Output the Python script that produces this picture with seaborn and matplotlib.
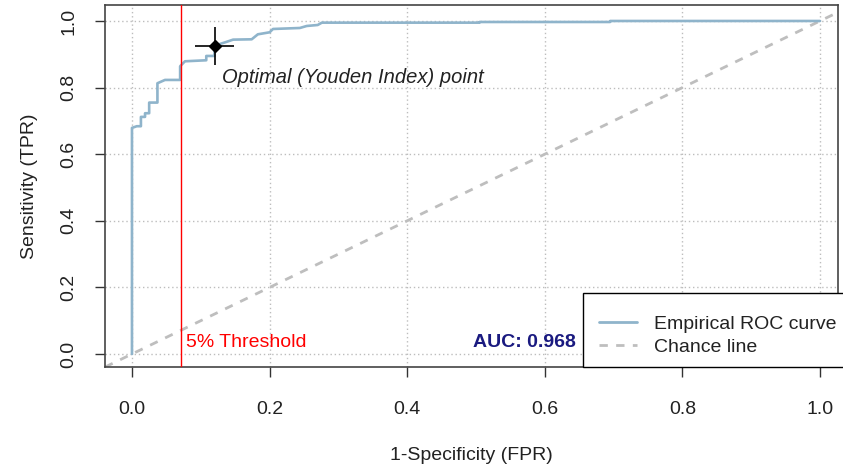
import matplotlib
matplotlib.use("Agg")
import matplotlib.pyplot as plt
import seaborn as sns
import pandas as pd
from matplotlib.lines import Line2D
from matplotlib.patches import Rectangle

# ---- data ----
fpr = [0.0, 0.0, 0.007, 0.013, 0.013, 0.019, 0.019, 0.025, 0.025, 0.037,
       0.037, 0.048, 0.070, 0.070, 0.077, 0.108, 0.108, 0.120, 0.120, 0.128,
       0.137, 0.147, 0.174, 0.183, 0.200, 0.205, 0.244, 0.254, 0.270, 0.276,
       0.505, 0.505, 0.695, 0.695, 1.0]
tpr = [0.0, 0.679, 0.684, 0.684, 0.712, 0.712, 0.723, 0.723, 0.755, 0.755,
       0.813, 0.823, 0.823, 0.864, 0.879, 0.882, 0.895, 0.895, 0.925, 0.931,
       0.937, 0.944, 0.945, 0.960, 0.966, 0.976, 0.979, 0.985, 0.988, 0.995,
       0.995, 0.997, 0.997, 1.0, 1.0]
optimal_fpr = [0.120]
optimal_tpr = [0.925]
optimal_fpr_err = [0.029]
optimal_tpr_err = [0.058]
threshold_fpr = 0.0715
auc_value = 0.968
ticks = [0.0, 0.2, 0.4, 0.6, 0.8, 1.0]
tick_labels = ["0.0", "0.2", "0.4", "0.6", "0.8", "1.0"]
legend_labels = ["Empirical ROC curve", "Chance line"]

roc = pd.DataFrame({"fpr": fpr, "tpr": tpr})

sns.set_style("ticks")
plt.rcParams["font.family"] = ["Liberation Sans", "DejaVu Sans"]

W, H = 843, 469
fig = plt.figure(figsize=(W / 100, H / 100), dpi=100)
L, R, T, B = 105, 838, 5, 367
ax = fig.add_axes([L / W, (H - B) / H, (R - L) / W, (B - T) / H])

FS = 14
curve_col = "#8FB4CB"

ax.set_xlim(-0.0392, 1.0262)
ax.set_ylim(-0.039, 1.048)

# grid
for t in ticks:
    ax.axvline(t, color="#BDBDBD", lw=1.0, ls=(0, (1, 2)), zorder=1)
    ax.axhline(t, color="#BDBDBD", lw=1.0, ls=(0, (1, 2)), zorder=1)

# chance line
ax.axline((0, 0), (1, 1), color="#BEBEBE", lw=2.0, ls=(0, (3, 3)), zorder=2)

# ROC curve
sns.lineplot(data=roc, x="fpr", y="tpr", sort=False, estimator=None,
             color=curve_col, lw=1.9, ax=ax, zorder=3)

# threshold line
ax.axvline(threshold_fpr, color="#FF0000", lw=1.0, zorder=4)

# optimal point
ax.errorbar(optimal_fpr, optimal_tpr, xerr=optimal_fpr_err, yerr=optimal_tpr_err,
            fmt="D", color="black", ms=6.5, elinewidth=1.2, capsize=0, zorder=5)

ax.text(0.131, 0.829, "Optimal (Youden Index) point", fontsize=14.5,
        style="italic", color="#222222", ha="left", va="center", zorder=6)
ax.text(0.078, 0.036, "5% Threshold", fontsize=FS, color="#FF0000",
        ha="left", va="center", zorder=6)
ax.text(0.645, 0.036, f"AUC: {auc_value:.3f}", fontsize=FS, color="#1A1A80",
        fontweight="bold", ha="right", va="center", zorder=6)

ax.set_xticks(ticks)
ax.set_xticklabels(tick_labels)
ax.set_yticks(ticks)
ax.set_yticklabels(tick_labels, rotation=90, va="center")
ax.tick_params(axis="both", which="major", direction="out", length=7.5, width=1.0,
               color="#333333", labelsize=FS, labelcolor="#222222",
               bottom=True, left=True, top=False, right=False)
ax.tick_params(axis="x", pad=17)
ax.tick_params(axis="y", pad=12.5)
for s in ax.spines.values():
    s.set_visible(True)
    s.set_color("#444444")
    s.set_linewidth(1.2)

ax.set_xlabel("1-Specificity (FPR)", fontsize=FS, color="#222222", labelpad=20.5)
ax.set_ylabel("Sensitivity (TPR)", fontsize=FS, color="#222222", labelpad=16)

# legend box (R-style, drawn as a frame) + frameless legend entries
frame = Rectangle((583 / W, (H - B) / H), (W + 5 - 583) / W, (B - 293) / H,
                  transform=fig.transFigure, facecolor="white",
                  edgecolor="black", lw=1.0, zorder=4)
fig.patches.append(frame)

handles = [Line2D([], [], color=curve_col, lw=2.0),
           Line2D([], [], color="#BEBEBE", lw=2.0, ls=(0, (3, 3)))]
leg = fig.legend(handles, legend_labels, loc="lower left",
                 bbox_to_anchor=(599 / W, (H - 355.5) / H), fontsize=FS,
                 frameon=False, borderpad=0, labelspacing=0.25,
                 handlelength=1.95, handletextpad=0.9, borderaxespad=0)
leg.set_zorder(5)
for t in leg.get_texts():
    t.set_color("#222222")

fig.savefig("out.png", dpi=100)
